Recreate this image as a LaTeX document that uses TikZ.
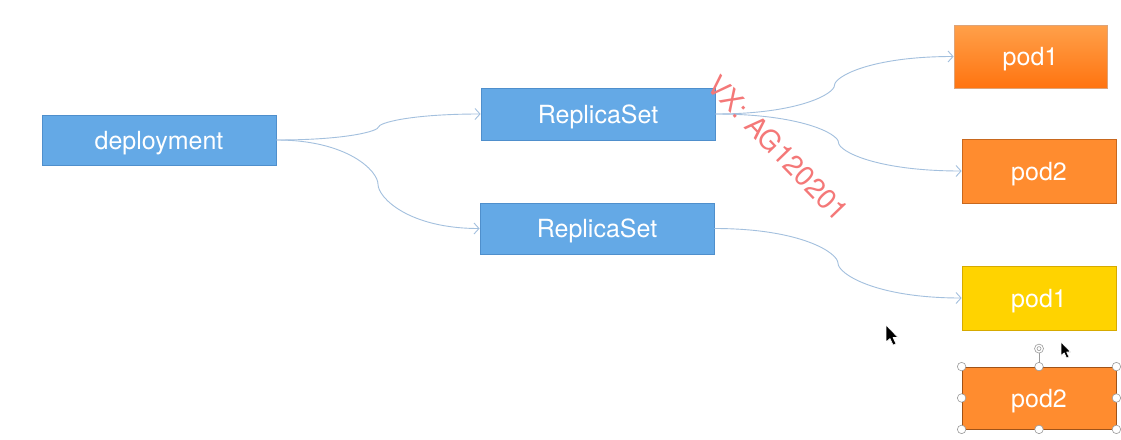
\documentclass[tikz,border=0pt]{standalone}
\usepackage{fontspec}
\setmainfont{TeX Gyre Heros}
\usetikzlibrary{arrows.meta,calc}
\definecolor{boxblue}{HTML}{64A9E6}
\definecolor{boxblueline}{HTML}{4F8FCC}
\definecolor{podtop}{HTML}{FFA04A}
\definecolor{podbot}{HTML}{FF7410}
\definecolor{podorange}{HTML}{FF8C2F}
\definecolor{podline}{HTML}{C8681E}
\definecolor{podyellow}{HTML}{FFD300}
\definecolor{podyline}{HTML}{D6AA00}
\definecolor{connc}{HTML}{A3C0DE}
\definecolor{wmark}{HTML}{F47878}
\definecolor{handleline}{HTML}{9A9A9A}
\begin{document}
\begin{tikzpicture}[x=1pt,y=-1pt,
  box/.style={rectangle, inner sep=0pt, text=white, line width=0.8pt,
    text height=18pt, text depth=0pt,
    font=\fontsize{25}{29}\selectfont},
  bluebox/.style={box, fill=boxblue, draw=boxblueline},
  conn/.style={draw=connc, line width=0.9pt,
    -{Straight Barb[length=5pt,width=11pt]},
    to path={let \p1=(\tikztostart), \p2=(\tikztotarget), \p3=($(\p1)!0.5!(\p2)$) in
      .. controls ({\x1+0.7*(\x3-\x1)},\y1) and (\x3,{\y3-0.3*(\y3-\y1)}) .. (\p3)
      .. controls (\x3,{\y3+0.3*(\y2-\y3)}) and ({\x2-0.7*(\x2-\x3)},\y2) .. (\p2)}},
  handle/.style={circle, fill=white, draw=handleline, line width=0.6pt, inner sep=0pt, minimum size=8.5pt},
  cursor/.style={fill=black, draw=white, line width=0.6pt, line join=round}
]
\fill[white] (0,0) rectangle (1121,439);
\useasboundingbox (0,0) rectangle (1121,439);

\node[bluebox, minimum width=234pt, minimum height=50pt] (dep) at (159,140) {deployment};
\node[bluebox, minimum width=234pt, minimum height=52pt] (rs1) at (598,114) {ReplicaSet};
\node[bluebox, minimum width=234pt, minimum height=51pt] (rs2) at (597,228.5) {ReplicaSet};

\node[box, top color=podtop, bottom color=podbot, draw=podline!60, minimum width=153pt, minimum height=63pt] (p1a) at (1030.5,56.5) {pod1};
\node[box, fill=podorange, draw=podline, minimum width=154pt, minimum height=64pt] (p2a) at (1039,171) {pod2};
\node[box, fill=podyellow, draw=podyline, minimum width=154pt, minimum height=64pt] (p1b) at (1039,298) {pod1};
\node[box, fill=podorange, draw=podline!80!black, minimum width=154pt, minimum height=62pt] (p2b) at (1039,398) {pod2};

\draw[conn] (dep.east) to (rs1.west);
\draw[conn] (dep.east) to (rs2.west);
\draw[conn] (rs1.east) to (p1a.west);
\draw[conn] (rs1.east) to (p2a.west);
\draw[conn] (rs2.east) to (p1b.west);

% selection handles
\coordinate (rot) at ($(p2b.north)+(0,-18)$);
\draw[handleline, line width=0.8pt] (p2b.north) -- (rot);
\node[handle, minimum size=9pt] (rh) at (rot) {};
\node[circle, draw=handleline, line width=0.6pt, inner sep=0pt, minimum size=4pt] (rhi) at (rot) {};
\foreach \a in {north west,north,north east,east,south east,south,south west,west}
  \node[handle] (h-\a) at (p2b.\a) {};

% watermark
\node[text=wmark, rotate=-46, font=\fontsize{28}{32}\selectfont] (wm) at (778,148) {VX:\hspace{10pt}AG120201};

% mouse cursors
\draw[cursor, shift={(886,325)}] (0,0) -- (0,17) -- (4,13.5) -- (7,20) -- (10,18.8) -- (7,12.5) -- (12,12.5) -- cycle;
\draw[cursor, shift={(1061,342)}, scale=0.8] (0,0) -- (0,17) -- (4,13.5) -- (7,20) -- (10,18.8) -- (7,12.5) -- (12,12.5) -- cycle;
\end{tikzpicture}
\end{document}
